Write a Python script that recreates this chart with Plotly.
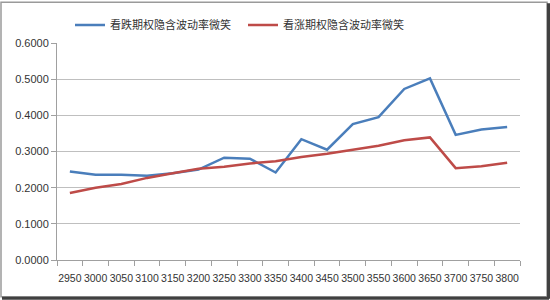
import plotly.graph_objects as go

strikes = ["2950", "3000", "3050", "3100", "3150", "3200", "3250", "3300", "3350",
           "3400", "3450", "3500", "3550", "3600", "3650", "3700", "3750", "3800"]
put_iv = [0.245, 0.236, 0.236, 0.233, 0.240, 0.250, 0.283, 0.280, 0.242,
          0.334, 0.305, 0.376, 0.395, 0.473, 0.502, 0.346, 0.361, 0.368]
call_iv = [0.185, 0.200, 0.210, 0.227, 0.240, 0.252, 0.258, 0.267, 0.273,
           0.285, 0.294, 0.306, 0.316, 0.331, 0.339, 0.254, 0.259, 0.269]
put_name = "看跌期权隐含波动率微笑"
call_name = "看涨期权隐含波动率微笑"

W, H = 550, 300
ml, mr, mt, mb = 57, 30, 42, 40
pw, ph = W - ml - mr, H - mt - mb

fig = go.Figure()
fig.add_trace(go.Scatter(x=strikes, y=put_iv, mode="lines", name=put_name,
                         line=dict(color="#4A7EBB", width=2.5)))
fig.add_trace(go.Scatter(x=strikes, y=call_iv, mode="lines", name=call_name,
                         line=dict(color="#BE4B48", width=2.5)))

def px(x):
    return (x - ml) / pw

def py(y):
    return (H - mb - y) / ph

fig.update_layout(
    width=W, height=H,
    margin=dict(l=ml, r=mr, t=mt, b=mb),
    paper_bgcolor="white", plot_bgcolor="white",
    font=dict(family="Liberation Sans, Arial, sans-serif", size=11, color="#333333"),
    showlegend=True,
    legend=dict(orientation="h", x=px(70), y=py(25), xanchor="left", yanchor="middle",
                font=dict(family="Noto Sans CJK SC", size=11, color="#333333"),
                itemwidth=30, tracegroupgap=0, entrywidth=128, bgcolor="rgba(0,0,0,0)"),
    xaxis=dict(type="category", range=[-0.5, len(strikes) - 0.5],
               showgrid=False, showline=True, linecolor="#A0A0A0",
               linewidth=1, ticks="outside", tickson="boundaries", ticklen=5,
               tickcolor="#A0A0A0", tickangle=0, tickfont=dict(size=10.5, color="#333333"),
               ticklabelstandoff=8, fixedrange=True, zeroline=False),
    yaxis=dict(range=[0, 0.6], dtick=0.1, tickformat=".4f", showgrid=True,
               gridcolor="#BFBFBF", gridwidth=1, showline=True, linecolor="#A0A0A0",
               ticks="outside", ticklen=5, tickcolor="#A0A0A0", zeroline=False,
               tickfont=dict(size=11, color="#333333"), fixedrange=True),
    shapes=[
        dict(type="rect", xref="paper", yref="paper",
             x0=px(1), x1=px(W - 3), y0=py(H - 3), y1=py(1),
             line=dict(color="#9A9A9A", width=1.5), fillcolor="rgba(0,0,0,0)", layer="below"),
        dict(type="line", xref="paper", yref="paper",
             x0=px(2), x1=px(W - 1), y0=py(H - 1.5), y1=py(H - 1.5),
             line=dict(color="#404040", width=3)),
        dict(type="line", xref="paper", yref="paper",
             x0=px(W - 1.5), x1=px(W - 1.5), y0=py(H - 1), y1=py(2),
             line=dict(color="#404040", width=3)),
    ],
)

fig.write_html("out.html")
